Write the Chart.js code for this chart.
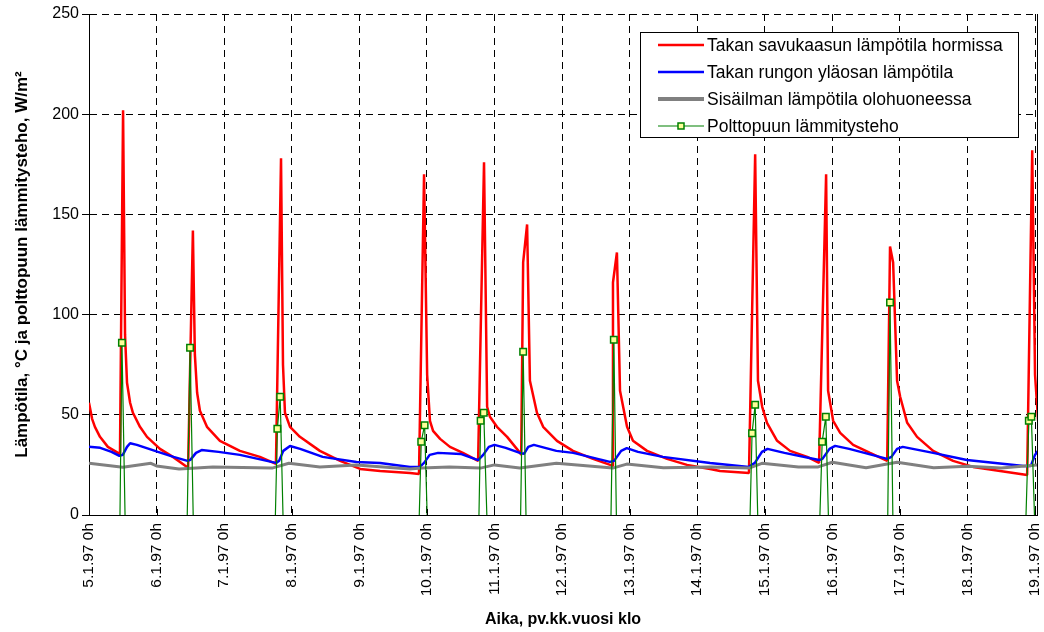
<!DOCTYPE html>
<html>
<head>
<meta charset="utf-8">
<script src="https://cdn.jsdelivr.net/npm/chart.js@4"></script>
<style>
  body { margin: 0; background: #fff; }
  canvas { display: block; }
</style>
</head>
<body>
<canvas id="chart" width="1044" height="632"></canvas>
<script>
// time = hours since 5.1.97 0h
const tickHours = [0, 24, 48, 72, 96, 120, 144, 168, 192, 216, 240, 264, 288, 312, 336];
const tickLabels = ['5.1.97 0h', '6.1.97 0h', '7.1.97 0h', '8.1.97 0h', '9.1.97 0h', '10.1.97 0h',
  '11.1.97 0h', '12.1.97 0h', '13.1.97 0h', '14.1.97 0h', '15.1.97 0h', '16.1.97 0h',
  '17.1.97 0h', '18.1.97 0h', '19.1.97 0h'];
const yTicks = [0, 50, 100, 150, 200, 250];

const seriesNames = ['Takan savukaasun lämpötila hormissa', 'Takan rungon yläosan lämpötila',
  'Sisäilman lämpötila olohuoneessa', 'Polttopuun lämmitysteho'];

// flue gas temperature
const fluHours = [0, 1.1, 2.1, 3.9, 6.7, 10.3, 11.0, 12.1, 12.8, 13.5, 14.6, 15.6, 18.1, 20.6, 25.2, 29.8,
  34.8, 35.2, 36.9, 37.6, 38.4, 39.4, 41.9, 46.5, 53.6, 60.7, 66.4, 68.2, 68.9, 69.6, 71.4, 74.9,
  82.0, 89.2, 96.3, 103.4, 114, 117.2, 119, 120.1, 121.1, 122.2, 124.7, 128.2, 132.8, 138.2, 140.3,
  141.4, 142.4, 144.9, 148.5, 153.1, 153.5, 154.2, 155.6, 156.6, 159.1, 161.3, 166.2, 171.9, 179,
  185.1, 185.8, 186.1, 187.5, 188.6, 191.1, 193.2, 198.2, 205.3, 212.4, 220.6, 224.1, 234.4, 236.6,
  237.6, 239.1, 240.8, 244.4, 249, 255.1, 259.3, 261.8, 262.5, 264.3, 266.8, 271.4, 277.4, 283.5,
  284.5, 285.6, 287, 288.1, 290.6, 294.1, 299.8, 306.9, 314, 323.6, 333.2, 335, 336, 337.1];
const fluTemp = [56, 48, 44, 39, 34, 31, 30, 202, 90, 66, 56, 51, 44, 39, 33, 29,
  24, 23.5, 142, 80, 61, 52, 44, 37, 32, 29, 25.5, 178, 75, 51, 44, 39,
  32, 27, 23, 22, 21, 20.5, 170, 70, 47, 42, 38, 34, 31, 27, 176,
  54, 49, 44, 39, 31, 30, 126, 145, 67, 51, 44, 37, 32, 28,
  25, 24.5, 116, 131, 62, 44, 37, 32, 28, 25, 23, 22, 21, 180,
  67, 54, 46, 37, 32, 29, 26, 170, 62, 47, 41, 35, 31, 27,
  134, 126, 67, 59, 46, 39, 32, 27, 24, 22, 20, 182, 70, 47];

// fireplace body, upper part
const bodyHours = [0, 4, 8, 10.8, 12, 13.5, 14.6, 17, 24.5, 30, 35, 36, 38, 40, 46, 53.6, 60, 66.4, 67.5,
  69, 71.4, 75, 83, 95, 103.4, 114, 117.5, 119, 121, 124, 132, 138.2, 140, 142, 144, 148, 153,
  154.5, 156, 158, 166, 172, 185, 186.5, 189, 191, 195, 203.8, 220.6, 234.4, 236.5, 239, 241, 247,
  259.3, 260.5, 263, 265, 270, 283.5, 285, 287, 289, 299.8, 311.8, 332, 334.5, 336, 337];
const bodyTemp = [34, 33.5, 31.5, 29.5, 30, 34, 35.8, 35, 31.5, 29, 27, 27.5, 31, 32.4, 31.5, 30, 28, 26, 27,
  32, 34.4, 33, 29, 26.5, 26, 24, 24, 26, 30, 31, 30.5, 27.4, 30, 34, 35, 33.5, 31,
  30.5, 34, 35, 32, 31, 26.5, 27, 32, 33.4, 31.5, 29, 26, 24, 26, 31.5, 33, 31,
  27.4, 28, 33, 34.5, 33, 28, 29, 33, 34, 31, 27.4, 24.5, 24.5, 30, 32];

// indoor air, living room
const roomHours = [0, 12, 22, 24, 32, 44, 65, 71, 82, 95, 114, 118, 128, 139, 144, 153, 166, 186, 191,
  204, 221, 234.4, 239, 252, 259, 264, 276, 287, 300, 312, 324, 337];
const roomTemp = [25.8, 23.8, 25.8, 24.5, 23, 24, 23.4, 25.8, 24, 25, 23, 23.4, 24, 23.4, 25, 23.4, 25.8,
  23.4, 25.4, 23.6, 24, 23.4, 25.8, 24, 24, 26.3, 23.6, 26.3, 23.6, 24.3, 23.4, 25];

// firewood heating power (null = no firing)
const woodHours = [11.0, 11.7, 12.8, 24, 34.9, 35.9, 37.0, 48, 66.2, 66.9, 67.9, 68.9, 96,
  117.3, 118.0, 119.2, 120.1, 130, 138.5, 139.1, 140.2, 141.3, 148, 153.3, 154.2, 155.2, 170,
  185.4, 186.4, 187.3, 210, 234.8, 235.5, 236.6, 237.5, 250, 259.6, 260.4, 261.7, 262.6, 270,
  283.7, 284.5, 285.5, 310, 332.8, 333.8, 334.7, 335.8];
const woodPower = [0, 86, 0, null, 0, 83.5, 0, null, 0, 43, 59, 0, null,
  0, 36.6, 44.8, 0, null, 0, 47, 51, 0, null, 0, 81.5, 0, null,
  0, 87.5, 0, null, 0, 40.8, 55, 0, null, 0, 36.6, 49, 0, null,
  0, 106, 0, null, 0, 47, 49, 0];

const pts = (xs, ys) => xs.map((x, i) => ({ x: x, y: ys[i] }));
const FONT = '"Liberation Sans", Arial, sans-serif';

const frame = {
  id: 'frame',
  afterDatasetsDraw(chart) {
    const { ctx, chartArea: a, scales } = chart;
    ctx.save();
    ctx.strokeStyle = '#000';
    ctx.lineWidth = 1;
    ctx.beginPath();
    ctx.moveTo(Math.round(a.right) + 0.5, a.top);
    ctx.lineTo(Math.round(a.right) + 0.5, a.bottom);
    tickHours.forEach(h => {
      const px = Math.round(scales.x.getPixelForValue(h)) + 0.5;
      ctx.moveTo(px, a.bottom);
      ctx.lineTo(px, a.bottom - 6);
    });
    ctx.stroke();
    ctx.restore();
  }
};

const legendBox = {
  id: 'legendBox',
  afterDatasetsDraw(chart) {
    const { ctx, chartArea: a } = chart;
    const sets = chart.data.datasets;
    ctx.save();
    ctx.font = '17.5px ' + FONT;
    const textW = Math.max(...sets.map(d => ctx.measureText(d.label).width));
    const w = Math.round(textW + 82), h = 105;
    const x0 = Math.round(a.right - 19 - w), y0 = Math.round(a.top + 18);
    ctx.fillStyle = '#fff';
    ctx.fillRect(x0, y0, w, h);
    ctx.strokeStyle = '#000';
    ctx.lineWidth = 1;
    ctx.strokeRect(x0 + 0.5, y0 + 0.5, w, h);
    sets.forEach((d, i) => {
      const y = Math.round(y0 + 12.5 + i * 27.3);
      ctx.strokeStyle = d.borderColor;
      ctx.lineWidth = d.legendWidth;
      ctx.beginPath();
      ctx.moveTo(x0 + 18, y);
      ctx.lineTo(x0 + 64, y);
      ctx.stroke();
      if (d.pointStyle === 'rect') {
        ctx.fillStyle = d.pointBackgroundColor;
        ctx.strokeStyle = d.pointBorderColor;
        ctx.lineWidth = 1.5;
        ctx.fillRect(x0 + 38, y - 3, 6, 6);
        ctx.strokeRect(x0 + 38, y - 3, 6, 6);
      }
      ctx.fillStyle = '#000';
      ctx.textBaseline = 'middle';
      ctx.fillText(d.label, x0 + 67, y + 1);
    });
    ctx.restore();
  }
};

new Chart(document.getElementById('chart'), {
  type: 'line',
  data: {
    datasets: [{
      label: seriesNames[0],
      data: pts(fluHours, fluTemp),
      borderColor: '#ff0000',
      borderWidth: 2.5,
      legendWidth: 2.5,
      pointRadius: 0,
      order: 3
    }, {
      label: seriesNames[1],
      data: pts(bodyHours, bodyTemp),
      borderColor: '#0000ff',
      borderWidth: 2.5,
      legendWidth: 2.5,
      pointRadius: 0,
      order: 2
    }, {
      label: seriesNames[2],
      data: pts(roomHours, roomTemp),
      borderColor: '#808080',
      borderWidth: 3,
      legendWidth: 4,
      pointRadius: 0,
      order: 1
    }, {
      label: seriesNames[3],
      data: pts(woodHours, woodPower),
      borderColor: '#008000',
      borderWidth: 1.2,
      legendWidth: 1.2,
      pointStyle: 'rect',
      pointRadius: c => (c.raw && c.raw.y > 0 ? 4.6 : 0),
      pointBackgroundColor: '#ffff99',
      pointBorderColor: '#008000',
      pointBorderWidth: 1.5,
      spanGaps: false,
      order: 0
    }]
  },
  options: {
    responsive: false,
    animation: false,
    events: [],
    devicePixelRatio: 1,
    elements: { line: { tension: 0, borderJoinStyle: 'bevel' } },
    layout: { padding: { left: 0, top: 14, right: 7, bottom: 0 } },
    scales: {
      x: {
        type: 'linear',
        min: 0,
        max: 336.7,
        afterFit: s => { s.height = 117; s.paddingLeft = 0; s.paddingRight = 0; },
        afterBuildTicks: s => { s.ticks = tickHours.map(v => ({ value: v })); },
        ticks: {
          autoSkip: false,
          minRotation: 90,
          maxRotation: 90,
          padding: 8,
          color: '#000',
          font: { family: FONT, size: 15.5 },
          callback: (v, i) => tickLabels[i]
        },
        grid: { color: '#000', lineWidth: 1, drawTicks: false },
        border: { color: '#000', width: 1, dash: [7, 5] },
        title: {
          display: true,
          text: 'Aika, pv.kk.vuosi klo',
          color: '#000',
          font: { family: FONT, size: 16, weight: 'bold' },
          padding: { top: 0, bottom: 3 }
        }
      },
      y: {
        min: 0,
        max: 250,
        afterFit: s => { s.width = 89; s.paddingTop = 0; s.paddingBottom = 0; },
        afterBuildTicks: s => { s.ticks = yTicks.map(v => ({ value: v })); },
        ticks: {
          padding: 3,
          color: '#000',
          font: { family: FONT, size: 16 }
        },
        grid: { color: '#000', lineWidth: 1, tickLength: 7, tickBorderDash: [] },
        border: { color: '#000', width: 1, dash: [7, 5] },
        title: {
          display: true,
          text: 'Lämpötila, °C ja polttopuun lämmitysteho, W/m²',
          color: '#000',
          font: { family: FONT, size: 17, weight: 'bold' },
          padding: { top: 12, bottom: 0 }
        }
      }
    },
    plugins: {
      legend: { display: false },
      tooltip: { enabled: false }
    }
  },
  plugins: [frame, legendBox]
});
</script>
</body>
</html>
